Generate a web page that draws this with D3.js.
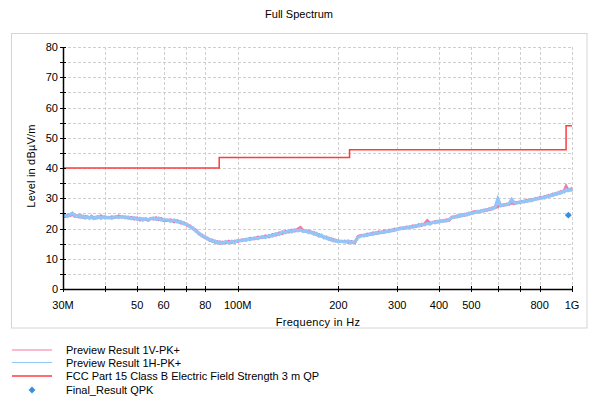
<!DOCTYPE html>
<html><head><meta charset="utf-8">
<script src="https://cdn.jsdelivr.net/npm/d3@7"></script>
<style>body{margin:0;background:#fff}svg{display:block;font-family:"Liberation Sans",Arial,sans-serif}</style>
</head><body><svg id="c" width="590" height="401"></svg>
<script>
const freqMHz = [30,30.5,31,31.5,32,32.5,33,33.5,34,34.5,35,35.5,36,36.5,37,37.5,38,38.5,39,39.5,40,
41,42,43,44,45,46,47,48,49,50,51,52,53,54,55,56,57,58,59,60,
61.5,63,64.5,66,67.5,69,70.5,72,73.5,75,76.5,78,79.5,81,82.5,84,85.5,87,88.5,90,92,94,96,98,100,
103,106,109,112,115,118,121,124,127,130,133,136,139,142,145,148,151,154,157,160,163,166,169,172,175,178,181,184,187,190,193,196,199,
204,209,214,219,224,229,234,239,244,249,254,259,264,269,274,279,284,289,294,299,
306,313,320,327,334,341,348,355,362,369,376,383,390,397,
405,413,421,429,437,445,453,461,469,477,485,493,501,
512,523,534,545,556,567,578,589,600,
612,624,636,648,660,672,684,696,708,720,732,744,756,768,780,792,804,816,828,840,852,864,876,888,900,912,924,936,948,960,972,984,996,1000];
const previewV = [24.3,23.9,24.5,24.2,24.7,24.0,24.3,23.8,24.2,23.6,24.0,23.7,23.5,24.1,23.6,23.4,23.9,23.6,24.2,23.7,23.9,
23.5,23.9,23.6,24.2,23.7,23.9,23.4,23.7,23.1,23.5,22.8,23.2,23.0,22.7,23.4,23.1,23.6,22.9,23.3,22.6,
22.6,22.9,22.2,22.6,21.8,21.9,21.0,20.9,19.8,19.5,18.2,17.9,17.0,16.9,16.0,16.2,15.4,15.7,15.1,15.5,15.2,15.8,15.3,15.9,15.7,
16.3,16.1,16.8,16.5,17.2,16.9,17.6,17.2,18.0,17.8,18.6,18.3,19.1,18.8,19.5,19.1,19.8,20.4,19.3,19.0,19.2,18.5,18.7,17.9,18.0,17.4,17.3,16.8,16.9,16.2,16.4,15.8,16.0,
15.6,15.9,15.4,15.7,15.3,17.4,17.8,17.5,18.2,18.0,18.6,18.3,18.9,18.6,19.2,18.9,19.5,19.2,19.8,19.6,
20.2,20.0,20.5,20.3,20.9,20.6,21.3,21.0,21.6,22.6,21.7,21.9,22.3,22.1,
22.6,22.4,22.9,22.7,23.8,23.7,24.2,24.0,24.6,24.3,24.9,24.7,25.3,
25.6,25.4,25.9,25.8,26.3,26.2,26.9,26.8,27.3,
27.8,27.6,28.1,27.9,28.4,28.2,28.7,28.5,29.0,28.8,29.4,29.1,29.6,29.4,30.0,29.8,30.4,30.1,30.6,30.4,31.0,30.8,31.4,31.2,31.7,31.5,32.2,32.0,32.6,34.0,32.9,32.7,33.2,33.1];
const previewH = [24.1,24.4,24.0,24.6,25.1,24.3,24.0,24.4,23.7,24.1,23.5,23.9,23.4,23.8,23.3,23.7,23.5,23.9,23.4,23.8,23.5,
23.7,23.4,23.9,23.6,24.0,23.5,23.8,23.2,23.6,23.0,23.4,22.8,23.3,22.9,23.2,23.5,23.0,23.4,22.8,22.9,
22.9,22.4,22.8,22.1,22.3,21.5,21.4,20.5,20.2,19.0,18.6,17.5,17.4,16.5,16.4,15.7,15.9,15.2,15.6,15.1,15.7,15.2,15.8,15.4,16.1,
16.0,16.5,16.3,16.9,16.7,17.3,17.0,17.7,17.5,18.3,18.0,18.9,18.6,19.3,18.9,19.6,19.2,19.5,19.0,19.3,18.6,18.9,18.1,18.4,17.5,17.8,16.9,17.2,16.4,16.7,15.9,16.2,15.7,
15.8,15.5,15.9,15.3,15.6,17.1,17.5,17.9,17.7,18.3,18.1,18.6,18.4,18.9,18.7,19.2,19.0,19.5,19.3,19.8,
19.9,20.3,20.1,20.6,20.4,21.0,20.8,21.4,21.2,21.7,21.5,22.1,21.9,22.4,
22.3,22.7,22.5,23.0,23.5,24.0,23.8,24.4,24.2,24.7,24.5,25.1,24.9,
25.3,25.7,25.6,26.1,25.9,26.6,26.4,27.1,29.8,
27.5,27.9,27.8,28.2,29.6,28.5,28.4,28.8,28.7,29.1,28.9,29.4,29.2,29.7,29.6,30.0,29.9,30.3,30.1,30.7,30.5,31.1,30.9,31.5,31.3,31.9,31.7,32.3,32.1,32.8,32.5,32.9,32.7,33.0];
const limitFreq = [30,88,88,216,216,960,960,1000];
const limitLevel = [40,40,43.5,43.5,46,46,54,54];
const finalFreq = [975];
const finalLevel = [24.4];
const xTicks = [30,40,50,60,70,80,100,200,300,400,500,600,700,800,1000];
const xTickLabels = ["30M","","50","60","","80","100M","200","300","400","500","","","800","1G"];
const yTicks = [0,10,20,30,40,50,60,70,80];
const yMinor = [5,15,25,35,45,55,65,75];
const legendLabels = ["Preview Result 1V-PK+","Preview Result 1H-PK+","FCC Part 15 Class B Electric Field Strength 3 m QP","Final_Result QPK"];
const title = "Full Spectrum";

const svg = d3.select("#c");
const L=63,R=572,T=47,B=289;
const x = d3.scaleLog().domain([30,1000]).range([L,R]);
const y = d3.scaleLinear().domain([0,80]).range([B,T]);
const cV="#f7779f", cH="#93c5f8", cLim="#ff3b3b", cFin="#3a8fdc";

svg.append("rect").attr("x",11.5).attr("y",33.5).attr("width",575.5).attr("height",294.5).attr("fill","none").attr("stroke","#d4d4d4");
svg.append("text").attr("x",299).attr("y",18).attr("text-anchor","middle").attr("font-size",11).text(title);

const grid = svg.append("g").attr("stroke","#cfcfcf").attr("stroke-dasharray","3,2").attr("stroke-width",1);
yTicks.concat(yMinor).forEach(v=>{ if(v>0) grid.append("line").attr("x1",L).attr("x2",R).attr("y1",Math.round(y(v))+0.5).attr("y2",Math.round(y(v))+0.5);});
xTicks.forEach(v=>{ if(v>30) grid.append("line").attr("x1",Math.round(x(v))+0.5).attr("x2",Math.round(x(v))+0.5).attr("y1",T).attr("y2",B);});

// traces
const line = d3.line().x(d=>x(d[0])).y(d=>y(d[1]));
svg.append("path").datum(freqMHz.map((f,i)=>[f,previewV[i]])).attr("d",line).attr("fill","none").attr("stroke",cV).attr("stroke-width",2.8).attr("stroke-linejoin","miter");
svg.append("path").datum(freqMHz.map((f,i)=>[f,previewH[i]])).attr("d",line).attr("fill","none").attr("stroke",cH).attr("stroke-width",3.2).attr("stroke-linejoin","miter");
svg.append("path").datum(limitFreq.map((f,i)=>[f,limitLevel[i]])).attr("d",line).attr("fill","none").attr("stroke",cLim).attr("stroke-width",1.5);
svg.selectAll(".fin").data(finalFreq.map((f,i)=>[f,finalLevel[i]])).enter().append("path")
  .attr("transform",d=>`translate(${x(d[0])},${y(d[1])})`).attr("d",d3.symbol(d3.symbolDiamond2,30)()).attr("fill",cFin);

// axes
const ax = svg.append("g").attr("stroke","#000");
ax.append("line").attr("x1",L+0.5).attr("x2",L+0.5).attr("y1",T).attr("y2",B+1).attr("stroke-width",1.5);
ax.append("line").attr("x1",L).attr("x2",R+1).attr("y1",B+0.5).attr("y2",B+0.5).attr("stroke-width",1.5);
yTicks.concat(yMinor).forEach(v=>ax.append("line").attr("x1",L-3).attr("x2",L+3).attr("y1",Math.round(y(v))+0.5).attr("y2",Math.round(y(v))+0.5));
xTicks.forEach(v=>ax.append("line").attr("x1",Math.round(x(v))+0.5).attr("x2",Math.round(x(v))+0.5).attr("y1",B-3).attr("y2",B+3));
svg.selectAll(".yl").data(yTicks).enter().append("text").attr("x",L-5).attr("y",d=>y(d)+4).attr("text-anchor","end").attr("font-size",11).text(d=>d);
svg.selectAll(".xl").data(xTicks).enter().append("text").attr("x",d=>x(d)).attr("y",B+20).attr("text-anchor","middle").attr("font-size",11).text((d,i)=>xTickLabels[i]);
svg.append("text").attr("transform","translate(35,166) rotate(-90)").attr("text-anchor","middle").attr("font-size",11).attr("letter-spacing",0.2).text("Level in dBµV/m");
svg.append("text").attr("x",318).attr("y",326).attr("text-anchor","middle").attr("font-size",11).attr("letter-spacing",0.3).text("Frequency in Hz");

// legend
const ly=[350,362.5,376,390];
const lg = svg.append("g");
[cV,cH,cLim].forEach((c,i)=>lg.append("line").attr("x1",12).attr("x2",52).attr("y1",ly[i]).attr("y2",ly[i]).attr("stroke",c).attr("stroke-width",i==2?1.5:1));
lg.append("path").attr("transform",`translate(32,${ly[3]})`).attr("d",d3.symbol(d3.symbolDiamond2,30)()).attr("fill",cFin);
legendLabels.forEach((t,i)=>lg.append("text").attr("x",66).attr("y",ly[i]+4).attr("font-size",11).text(t));
</script></body></html>
